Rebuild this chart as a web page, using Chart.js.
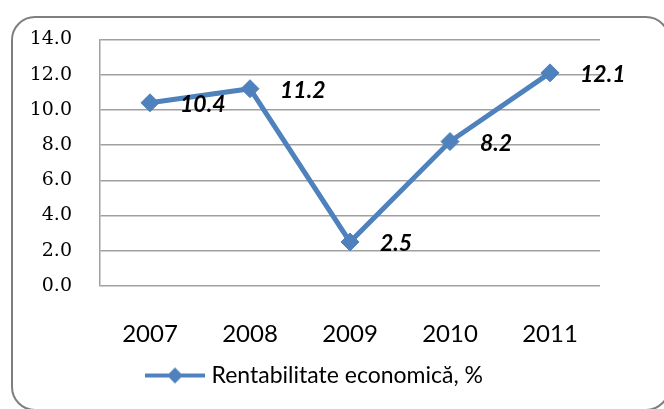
<!DOCTYPE html>
<html>
<head>
<meta charset="utf-8">
<script src="https://cdn.jsdelivr.net/npm/chart.js@4/dist/chart.umd.min.js"></script>
<style>
  html, body { margin: 0; padding: 0; background: #fff; }
  #wrap { position: relative; width: 664px; height: 409px; overflow: hidden; }
  #frame {
    position: absolute; left: 11px; top: 16px; width: 655px; height: 391px;
    border: 2px solid #7f7f7f; border-radius: 24px;
  }
  canvas { position: absolute; left: 0; top: 0; }
</style>
</head>
<body>
<div id="wrap">
  <div id="frame"></div>
  <canvas id="chart" width="664" height="409"></canvas>
</div>
<script>
// data
const years = ['2007', '2008', '2009', '2010', '2011'];
const rentabilitate = [10.4, 11.2, 2.5, 8.2, 12.1];
const seriesName = 'Rentabilitate economică, %';

const blue = '#4F81BD';

// legend marker: line with a diamond in the middle
const marker = document.createElement('canvas');
marker.width = 60;
marker.height = 20;
(function () {
    const c = marker.getContext('2d');
    c.strokeStyle = blue;
    c.lineWidth = 4;
    c.beginPath();
    c.moveTo(0, 10);
    c.lineTo(60, 10);
    c.stroke();
    c.fillStyle = blue;
    c.beginPath();
    c.moveTo(30, 2);
    c.lineTo(38, 10);
    c.lineTo(30, 18);
    c.lineTo(22, 10);
    c.closePath();
    c.fill();
})();

// value labels next to each point
const valueLabels = {
    id: 'valueLabels',
    afterDatasetsDraw(chart) {
        const ctx = chart.ctx;
        const meta = chart.getDatasetMeta(0);
        ctx.save();
        ctx.font = 'italic bold 23px Lato';
        ctx.fillStyle = '#000';
        ctx.textBaseline = 'middle';
        ctx.textAlign = 'left';
        meta.data.forEach((pt, i) => {
            ctx.fillText(rentabilitate[i].toFixed(1), pt.x + 30, pt.y + 2);
        });
        ctx.restore();
    }
};

// move the legend a bit left, like the original
const legendShift = {
    id: 'legendShift',
    afterLayout(chart) {
        const lg = chart.legend;
        const w = lg.right - lg.left;
        lg.left = 140;
        lg.right = 140 + w;
    }
};

new Chart(document.getElementById('chart'), {
    type: 'line',
    data: {
        labels: years,
        datasets: [{
            label: seriesName,
            data: rentabilitate,
            borderColor: blue,
            backgroundColor: blue,
            borderWidth: 5,
            pointStyle: 'rectRot',
            pointRadius: 9,
            pointBorderWidth: 1,
            fill: false,
            tension: 0
        }]
    },
    options: {
        responsive: false,
        animation: false,
        layout: { padding: { top: 38, right: 64, left: 0, bottom: 12 } },
        plugins: {
            legend: {
                position: 'bottom',
                align: 'start',
                labels: {
                    usePointStyle: true,
                    pointStyle: marker,
                    pointStyleWidth: 50,
                    padding: 10,
                    color: '#000',
                    font: { family: 'Lato', size: 23 }
                }
            },
            tooltip: { enabled: false }
        },
        scales: {
            x: {
                offset: true,
                afterFit(scale) { scale.height = 68; },
                grid: { display: false, drawTicks: false },
                border: { display: false },
                ticks: {
                    padding: 34,
                    color: '#000',
                    font: { family: 'Lato', size: 24 }
                }
            },
            y: {
                min: 0,
                max: 14,
                afterFit(scale) { scale.width = 100; },
                grid: { color: '#a0a0a0', lineWidth: 1.5, drawTicks: false },
                border: { display: true, color: '#a0a0a0', width: 1.5 },
                ticks: {
                    stepSize: 2,
                    padding: 28,
                    color: '#000',
                    font: { family: 'DejaVu Serif', size: 19 },
                    callback: v => v.toFixed(1)
                }
            }
        }
    },
    plugins: [valueLabels, legendShift]
});
</script>
</body>
</html>
